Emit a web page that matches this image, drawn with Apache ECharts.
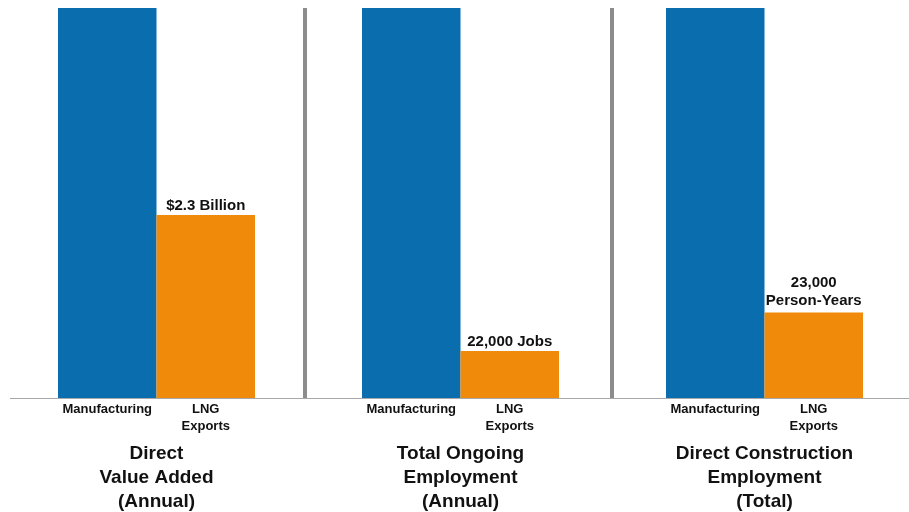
<!DOCTYPE html>
<html>
<head>
<meta charset="utf-8">
<script src="https://cdn.jsdelivr.net/npm/echarts@6/dist/echarts.min.js"></script>
<style>
  html, body { margin: 0; padding: 0; background: #fff; }
  #main { width: 909px; height: 512px; }
</style>
</head>
<body>
<div id="main"></div>
<script>
// data (manufacturing bars run off the top, so estimated)
var categories = ['Manufacturing', 'LNG\nExports'];
var panelTitles = ['Direct\nValue Added\n(Annual)', 'Total Ongoing\nEmployment\n(Annual)', 'Direct Construction\nEmployment\n(Total)'];
var manufacturing = [4.9, 183000, 105000];
var lngExports = [2.3, 22000, 23000];
var lngLabels = ['$2.3 Billion', '22,000 Jobs', '23,000\nPerson-Years'];

var BLUE = '#0a6eae';
var ORANGE = '#ef8a0b';
var gridLefts = [58, 362, 666];

var myChart = echarts.init(document.getElementById('main'));

var grids = [], xAxes = [], yAxes = [], series = [];
for (var i = 0; i < 3; i++) {
    grids.push({ left: gridLefts[i], width: 197, top: 8, height: 390, containLabel: false, outerBoundsMode: 'none' });
    xAxes.push({
        type: 'category',
        gridIndex: i,
        data: categories,
        axisLine: { show: false },
        axisTick: { show: false },
        axisLabel: {
            interval: 0,
            margin: 3,
            color: '#111',
            fontWeight: 'bold',
            fontSize: 13,
            lineHeight: 17,
            fontFamily: 'Liberation Sans, Arial, sans-serif'
        },
        name: panelTitles[i],
        nameLocation: 'middle',
        nameGap: 44,
        nameTextStyle: {
            color: '#111',
            fontWeight: 'bold',
            fontSize: 19,
            lineHeight: 24,
            fontFamily: 'Liberation Sans Narrow, Arial Narrow, Liberation Sans, sans-serif'
        }
    });
    yAxes.push({
        type: 'value',
        gridIndex: i,
        min: 0,
        max: manufacturing[i],
        show: false,
        splitLine: { show: false }
    });
    series.push({
        type: 'bar',
        xAxisIndex: i,
        yAxisIndex: i,
        barCategoryGap: 0,
        data: [
            { value: manufacturing[i], itemStyle: { color: BLUE } },
            {
                value: lngExports[i],
                itemStyle: { color: ORANGE },
                label: {
                    show: true,
                    position: 'top',
                    distance: i === 2 ? 3 : 0,
                    formatter: lngLabels[i],
                    color: '#111',
                    fontWeight: 'bold',
                    fontSize: 15,
                    lineHeight: 18,
                    fontFamily: 'Liberation Sans, Arial, sans-serif'
                }
            }
        ]
    });
}

var option = {
    backgroundColor: '#fff',
    animation: false,
    grid: grids,
    xAxis: xAxes,
    yAxis: yAxes,
    series: series,
    graphic: [
        // baseline
        { type: 'line', shape: { x1: 10, y1: 398.5, x2: 909, y2: 398.5 }, style: { stroke: '#a8a8a8', lineWidth: 1 }, z: 10 },
        // panel separators
        { type: 'line', shape: { x1: 305, y1: 8, x2: 305, y2: 399 }, style: { stroke: '#8c8c8c', lineWidth: 4 } },
        { type: 'line', shape: { x1: 612, y1: 8, x2: 612, y2: 399 }, style: { stroke: '#8c8c8c', lineWidth: 4 } }
    ]
};

myChart.setOption(option);
</script>
</body>
</html>
